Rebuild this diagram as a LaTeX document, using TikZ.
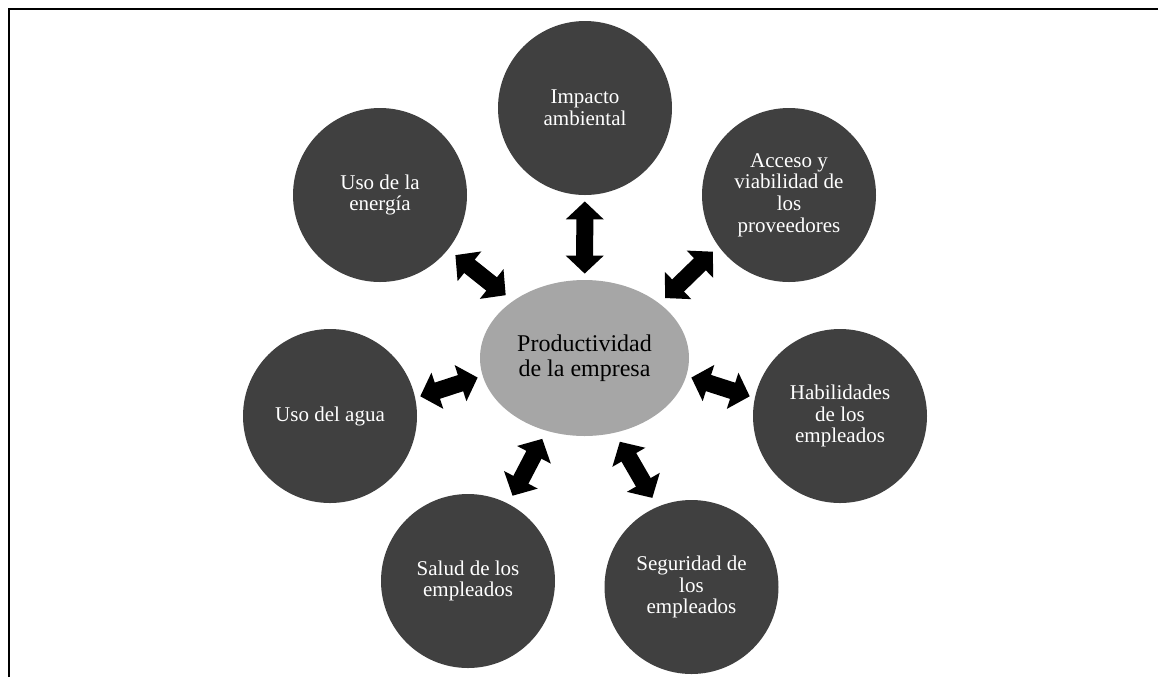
\documentclass[tikz,border=0pt]{standalone}
\usepackage{fontspec}
\setmainfont{Liberation Serif}
\usetikzlibrary{arrows.meta,shapes.geometric}
\definecolor{dark}{HTML}{404040}
\definecolor{mid}{HTML}{A6A6A6}

\begin{document}
\begin{tikzpicture}[x=0.5pt, y=-0.5pt, c/.style={circle, fill=dark, minimum size=87pt, inner sep=0pt, text=white, align=center, font=\fontsize{10.5}{10.9}\selectfont}, m/.style={ellipse, fill=mid, minimum width=104.5pt, minimum height=78pt, inner sep=0pt, align=center, font=\fontsize{12}{12.4}\selectfont}, s/.style={line width=8.5pt, {Triangle[length=9pt, width=18.5pt]}-{Triangle[length=9pt, width=18.5pt]}, shorten <=3pt, shorten >=3pt}]
		\useasboundingbox (0,0) rectangle (1158,677);
		\draw[line width=1pt] (8.5,677) -- (8.5,9) -- (1158,9);

		\node[m] (P) at (584.5,358) {Productividad\\de la empresa};
		\node[c] (I) at (585,108) {Impacto\\ambiental};
		\node[c] (A) at (789,195) {Acceso y\\viabilidad de\\los\\proveedores};
		\node[c] (H) at (840,416) {Habilidades\\de los\\empleados};
		\node[c] (G) at (691.5,587) {Seguridad de\\los\\empleados};
		\node[c] (S) at (468,581) {Salud de los\\empleados};
		\node[c] (W) at (330,416) {Uso del agua};
		\node[c] (E) at (380,195) {Uso de la\\energía};

		% double arrows, slightly tilted as in the original
		\draw[s] (P) -- (I);
		\draw[s, shorten <=3.8pt, shorten >=3.8pt] (P.36) -- (A.216);
		\draw[s, shorten <=2.5pt, shorten >=2.5pt] (P.350) -- (H.168);
		\draw[s, shorten <=5pt, shorten >=5pt] (P.292) -- (G.113);
		\draw[s, shorten <=4.4pt, shorten >=4.4pt] (P) -- (S);
		\draw[s, shorten <=2.5pt, shorten >=2.5pt] (P.190) -- (W.12);
		\draw[s, shorten <=4.5pt, shorten >=4.5pt] (P) -- (E);
	\end{tikzpicture}
\end{document}
